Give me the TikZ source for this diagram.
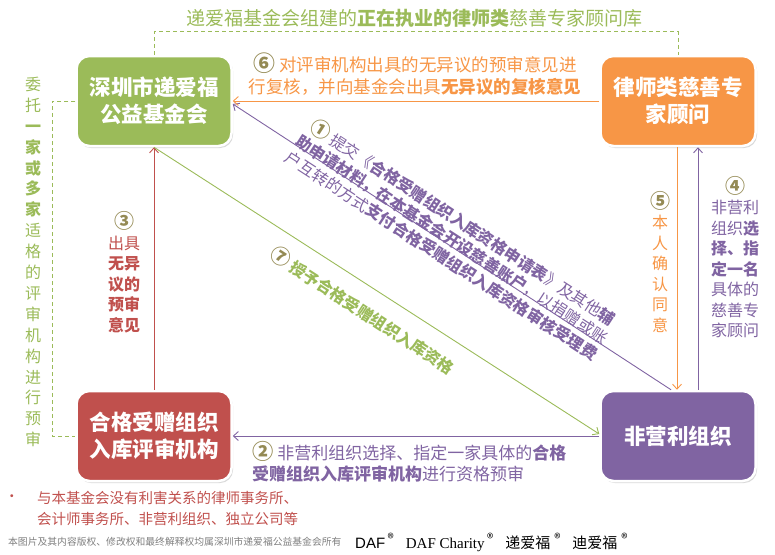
\documentclass[tikz,border=0pt]{standalone}
\usepackage{fontspec}
\setmainfont{Noto Sans CJK SC}
\newfontfamily\dafsans{Liberation Sans}
\newfontfamily\dafserif{Liberation Serif}
\usetikzlibrary{positioning,shadows,arrows.meta}
\definecolor{dafgreen}{HTML}{9BBB59}
\definecolor{daforange}{HTML}{F79646}
\definecolor{dafred}{HTML}{C0504D}
\definecolor{dafpurple}{HTML}{8064A2}
\definecolor{numolive}{HTML}{948A54}
\definecolor{notegrey}{HTML}{7F7F7F}
\newcommand{\fsz}[2]{\fontsize{#1}{#2}\selectfont}
\newcommand{\stepno}[1]{{\color{numolive}\scalebox{1.25}{\textbf{#1}}}}
\newcommand{\regmark}{\raisebox{5pt}{\fsz{13}{13}®}}

\begin{document}
\begin{tikzpicture}[
  x=1pt, y=-1pt,
  every node/.style={inner sep=0pt},
  tile/.style={
    rounded corners=13pt,
    minimum width=155pt, minimum height=90pt,
    align=center, draw=white, line width=2.5pt,
    drop shadow={shadow xshift=1.5pt, shadow yshift=-2pt, opacity=0.3},
    text=white, font=\bfseries\fsz{21.5}{27}
  },
  gtile/.style={tile, fill=dafgreen},
  otile/.style={tile, fill=daforange},
  rtile/.style={tile, fill=dafred},
  ptile/.style={tile, fill=dafpurple},
  flow/.style={line width=0.9pt, -{Straight Barb[length=5pt, width=9pt]}},
  guide/.style={draw=dafgreen, line width=0.9pt, dash pattern=on 4pt off 3pt},
  lbl/.style={font=\fsz{16}{20.5}, align=center}
]
\useasboundingbox (0,0) rectangle (775,554);

% Four parties, one in each corner
\node[gtile] (fund)   at (154,101) {深圳市递爱福\\公益基金会};
\node[otile] (expert) at (678,101) {律师类慈善专\\家顾问};
\node[rtile] (review) at (154,436) {合格受赠组织\\入库评审机构};
\node[ptile] (npo)    at (678,436) {非营利组织};

% Dashed links: expert pool (top) and entrusted reviewers (left)
\draw[guide] (fund.north) -- ++(0,-23) -| (expert.north);
\draw[guide] (fund.west) -- ++(-23,0) |- (review.west);
\node[font=\fsz{19}{22}, text=dafgreen] (pool) at (414,18)
  {递爱福基金会组建的\textbf{正在执业的律师类}慈善专家顾问库};
\node[lbl, text=dafgreen, font=\fsz{16}{20.9}] (entrust) at (33,262)
  {委\\托\\\textbf{一}\\\textbf{家}\\\textbf{或}\\\textbf{多}\\\textbf{家}\\适\\格\\的\\评\\审\\机\\构\\进\\行\\预\\审};

% Steps 1 to 7
\draw[flow, dafpurple] ([xshift=-7pt]npo.north) -- ([yshift=-3pt]fund.east);
\node[lbl, rotate=-33, text=dafpurple, font=\fsz{16}{19.5}] (s1) at (453,238)
  {\stepno{①} 提交《\textbf{合格受赠组织入库资格申请表}》及其他\textbf{辅}\\\textbf{助申请材料，在本基金会开设慈善账户}，以捐赠或账\\户互转的方式\textbf{支付合格受赠组织入库资格审核受理费}};

\draw[flow, dafpurple] (npo.west) -- (review.east);
\node[font=\fsz{17}{21}, text=dafpurple, align=left, anchor=west] (s2) at (252,462)
  {\stepno{②} 非营利组织选择、指定一家具体的\textbf{合格}\\\textbf{受赠组织入库评审机构}进行资格预审};

\draw[flow, dafred] (review.north) -- (fund.south);
\node[lbl, text=dafred] (s3) at (124,272)
  {\stepno{③}\\出具\\\textbf{无异}\\\textbf{议的}\\\textbf{预审}\\\textbf{意见}};

\draw[flow, dafpurple] ([xshift=20pt]npo.north) -- ([xshift=20pt]expert.south);
\node[lbl, text=dafpurple] (s4) at (735,257)
  {\stepno{④}\\非营利\\组织\textbf{选}\\\textbf{择、指}\\\textbf{定一名}\\具体的\\慈善专\\家顾问};

\draw[flow, daforange] ([xshift=-1pt]expert.south) -- ([xshift=-1pt]npo.north);
\node[lbl, text=daforange] (s5) at (660,262)
  {\stepno{⑤}\\本\\人\\确\\认\\同\\意};

\draw[flow, daforange] (expert.west) -- (fund.east);
\node[font=\fsz{17.5}{22}, text=daforange, align=center] (s6) at (415,74)
  {\stepno{⑥} 对评审机构出具的无异议的预审意见进\\行复核，并向基金会出具\textbf{无异议的复核意见}};

\draw[flow, dafgreen] (fund.south) -- ([yshift=2pt]npo.west);
\node[font=\bfseries\fsz{16}{20}, rotate=-33, text=dafgreen] (s7) at (363,310)
  {\stepno{⑦} 授予合格受赠组织入库资格};

% Footnote and rights line
\node[text=dafred, font=\fsz{14}{21}] (dot) at (12,498) {•};
\node[text=dafred, font=\fsz{14.5}{21}, align=left, anchor=west] (members) at (37,508)
  {与本基金会没有利害关系的律师事务所、\\会计师事务所、非营利组织、独立公司等};
\node[text=notegrey, font=\fsz{9.8}{12}, anchor=west] (rights) at (8,542)
  {本图片及其内容版权、修改权和最终解释权均属深圳市递爱福公益基金会所有};
\node[font=\fsz{15}{16}, anchor=west] (marks) at (355,542)
  {{\dafsans DAF}\,\regmark\hspace{12pt}{\dafserif DAF Charity}\,\regmark\hspace{12pt}递爱福\hspace{4pt}\regmark\hspace{12pt}迪爱福\hspace{4pt}\regmark};

\end{tikzpicture}
\end{document}
